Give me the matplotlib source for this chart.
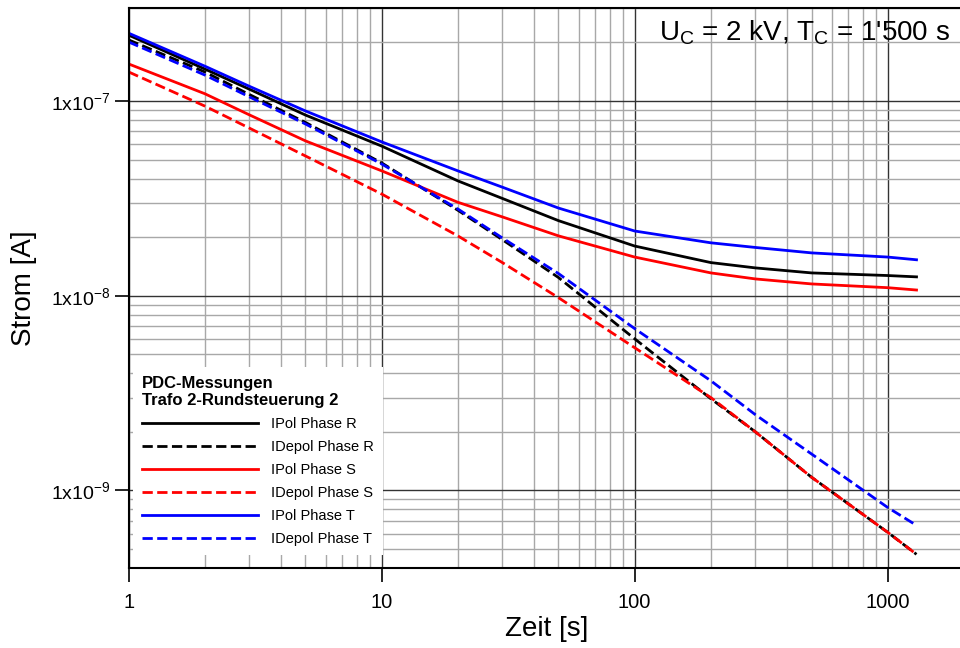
import numpy as np
import matplotlib.pyplot as plt
from matplotlib.ticker import FixedLocator, LogLocator, FuncFormatter, NullFormatter

plt.rcParams['font.family'] = ['Liberation Sans', 'DejaVu Sans']
plt.rcParams['mathtext.default'] = 'regular'

# Polarisationsstroeme (IPol), Zeitpunkte in s
t_pol = [1, 2, 3, 5, 10, 20, 30, 50, 100, 200, 300, 500, 1000, 1300]
ipol_R = [2.18e-7, 1.46e-7, 1.15e-7, 8.47e-8, 5.87e-8, 3.89e-8, 3.16e-8, 2.43e-8,
          1.80e-8, 1.48e-8, 1.39e-8, 1.31e-8, 1.27e-8, 1.25e-8]
ipol_S = [1.55e-7, 1.09e-7, 8.49e-8, 6.24e-8, 4.38e-8, 3.02e-8, 2.54e-8, 2.03e-8,
          1.58e-8, 1.31e-8, 1.22e-8, 1.15e-8, 1.10e-8, 1.07e-8]
ipol_T = [2.23e-7, 1.51e-7, 1.19e-7, 8.89e-8, 6.17e-8, 4.38e-8, 3.61e-8, 2.82e-8,
          2.15e-8, 1.87e-8, 1.77e-8, 1.66e-8, 1.58e-8, 1.53e-8]

# Depolarisationsstroeme (IDepol)
t_depol = [1, 2, 3, 5, 10, 20, 30, 50, 100, 200, 300, 500, 1000, 1300]
idepol_R = [2.06e-7, 1.41e-7, 1.08e-7, 7.76e-8, 4.81e-8, 2.75e-8, 1.94e-8, 1.24e-8,
            6.01e-9, 2.96e-9, 2.0e-9, 1.17e-9, 6.1e-10, 4.7e-10]
idepol_S = [1.41e-7, 9.42e-8, 7.26e-8, 5.22e-8, 3.33e-8, 2.03e-8, 1.48e-8, 9.77e-9,
            5.41e-9, 3.0e-9, 2.0e-9, 1.17e-9, 6.1e-10, 4.7e-10]
idepol_T = [2.01e-7, 1.36e-7, 1.05e-7, 7.62e-8, 4.75e-8, 2.79e-8, 1.98e-8, 1.30e-8,
            6.78e-9, 3.66e-9, 2.45e-9, 1.54e-9, 8.18e-10, 6.62e-10]

x_ticks = [1, 10, 100, 1000]
y_ticks = [1e-9, 1e-8, 1e-7]

fig = plt.figure(figsize=(9.6, 6.48), dpi=100)
ax = fig.add_axes([0.134, 0.1235, 0.870, 0.864])

lw = 2.0
ax.plot(t_pol, ipol_R, color='black', lw=lw, label='IPol Phase R')
ax.plot(t_depol, idepol_R, color='black', lw=lw, ls='--', label='IDepol Phase R')
ax.plot(t_pol, ipol_S, color='red', lw=lw, label='IPol Phase S')
ax.plot(t_depol, idepol_S, color='red', lw=lw, ls='--', label='IDepol Phase S')
ax.plot(t_pol, ipol_T, color='blue', lw=lw, label='IPol Phase T')
ax.plot(t_depol, idepol_T, color='blue', lw=lw, ls='--', label='IDepol Phase T')

ax.set_xscale('log')
ax.set_yscale('log')
ax.set_xlim(1, 2000)
ax.set_ylim(4e-10, 3e-7)

ax.xaxis.set_major_locator(FixedLocator(x_ticks))
ax.xaxis.set_minor_locator(LogLocator(base=10, subs=np.arange(2, 10), numticks=20))
ax.yaxis.set_major_locator(FixedLocator(y_ticks))
ax.yaxis.set_minor_locator(LogLocator(base=10, subs=np.arange(2, 10), numticks=20))
ax.xaxis.set_major_formatter(FuncFormatter(lambda v, p: '%d' % round(v)))
ax.yaxis.set_major_formatter(FuncFormatter(
    lambda v, p: '1x10$^{%d}$' % round(np.log10(v))))
ax.xaxis.set_minor_formatter(NullFormatter())
ax.yaxis.set_minor_formatter(NullFormatter())

ax.grid(which='major', color='#333333', lw=1.0)
ax.grid(which='minor', color='#a8a8a8', lw=1.0)
ax.set_axisbelow(True)
ax.tick_params(which='major', direction='out', length=10, width=1.2, color='black')
ax.tick_params(axis='x', which='major', pad=8, labelsize=14.5)
ax.tick_params(axis='y', which='major', pad=3, labelsize=14)
ax.tick_params(which='minor', length=0)
for s in ax.spines.values():
    s.set_linewidth(1.5)

ax.set_xlabel('Zeit [s]', fontsize=20, labelpad=3)
ax.set_ylabel('Strom [A]', fontsize=20, labelpad=10)

ax.text(0.983, 0.982, "U$_C$ = 2 kV, T$_C$ = 1'500 s", transform=ax.transAxes,
        ha='right', va='top', fontsize=20)

leg = ax.legend(loc='lower left', bbox_to_anchor=(0.005, 0.023), borderaxespad=0,
                fontsize=10.5, title='PDC-Messungen\nTrafo 2-Rundsteuerung 2',
                title_fontproperties={'weight': 'bold', 'size': 12},
                handlelength=8.0, handletextpad=0.9, labelspacing=0.62,
                frameon=True, fancybox=False, framealpha=1, edgecolor='none',
                borderpad=0.6)
leg._legend_box.align = 'left'
leg.set_zorder(5)

fig.savefig('out.png', dpi=100)
